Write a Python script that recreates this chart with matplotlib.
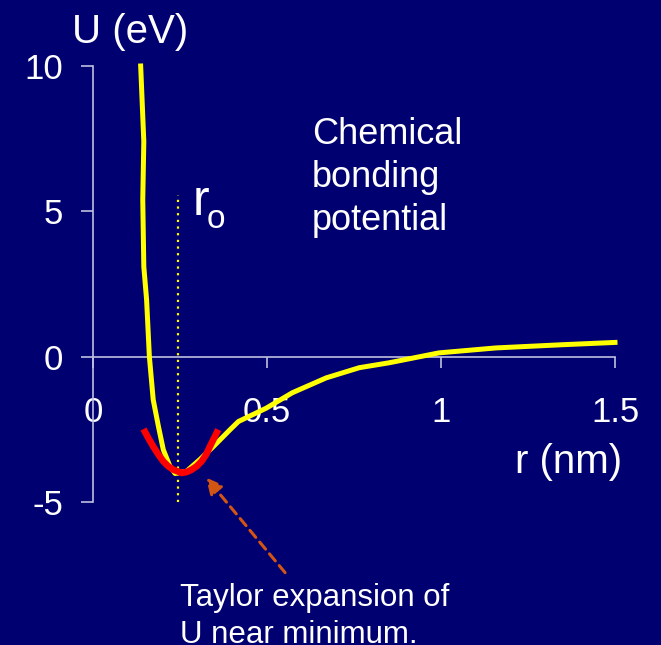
import matplotlib
matplotlib.use('Agg')
import matplotlib.pyplot as plt

plt.rcParams['font.family'] = ['Liberation Sans', 'DejaVu Sans']
plt.rcParams['axes.unicode_minus'] = False

# bonding potential (r in nm, U in eV)
r_curve = [0.137, 0.146, 0.143, 0.146, 0.154, 0.162, 0.173, 0.188, 0.202, 0.221,
           0.236, 0.269, 0.307, 0.346, 0.394, 0.418, 0.498, 0.573, 0.67, 0.765,
           0.851, 0.994, 1.157, 1.347, 1.5]
u_curve = [10.0, 7.4, 5.4, 3.1, 1.96, 0.0, -1.48, -2.4, -3.2, -3.77,
           -4.02, -3.94, -3.54, -3.09, -2.51, -2.23, -1.77, -1.24, -0.73, -0.38,
           -0.21, 0.13, 0.30, 0.41, 0.49]

# Taylor (parabola) approximation near the minimum
r_taylor = [0.145, 0.159, 0.173, 0.188, 0.202, 0.216, 0.231, 0.255, 0.269,
            0.283, 0.298, 0.312, 0.325, 0.336, 0.348, 0.36]
u_taylor = [-2.49, -2.8, -3.09, -3.37, -3.6, -3.77, -3.89, -4.0, -3.97,
            -3.89, -3.77, -3.6, -3.37, -3.09, -2.8, -2.51]

r0 = 0.245
r0_span = [-5, 5.55]

x_ticks = [0, 0.5, 1, 1.5]
x_labels = ['0', '0.5', '1', '1.5']
y_ticks = [-5, 0, 5, 10]
y_labels = ['-5', '0', '5', '10']

bg = '#000070'
axis_col = '#c0c0e0'
W, H = 661, 645

fig = plt.figure(figsize=(W / 100, H / 100), dpi=100, facecolor=bg)
ax = fig.add_axes([93 / W, 1 - 502 / H, (615 - 93) / W, (502 - 66) / H])
ax.set_facecolor(bg)
ax.set_xlim(0, 1.5)
ax.set_ylim(-5, 10)

for s in ['top', 'right']:
    ax.spines[s].set_visible(False)
ax.spines['bottom'].set_position(('data', 0))
for s in ['left', 'bottom']:
    ax.spines[s].set_color(axis_col)
    ax.spines[s].set_linewidth(1.2)

ax.set_xticks(x_ticks)
ax.set_xticklabels(x_labels)
ax.set_yticks(y_ticks)
ax.set_yticklabels(y_labels)
ax.tick_params(axis='x', direction='out', length=8, width=1.2, color=axis_col,
               labelcolor='white', labelsize=25, pad=20)
ax.tick_params(axis='y', direction='out', length=8.6, width=1.2, color=axis_col,
               labelcolor='white', labelsize=25, pad=13)

ax.plot([r0, r0], r0_span, color='#ffff00', lw=1.6, linestyle=(0, (1, 2)), zorder=3)
ax.plot(r_curve, u_curve, color='#ffff00', lw=3.6, clip_on=False, zorder=4,
        solid_joinstyle='round')
ax.plot(r_taylor, u_taylor, color='#ff0000', lw=4.8, clip_on=False, zorder=5,
        solid_capstyle='butt', solid_joinstyle='round')

ax.annotate('', xy=(0.325, -4.16), xytext=(0.552, -7.43),
            arrowprops=dict(arrowstyle='-|>', color='#d25514', lw=2.2,
                            linestyle=(0, (3, 2)), mutation_scale=24,
                            shrinkA=0, shrinkB=0),
            annotation_clip=False)

ax.text(0.287, 4.88, 'r', color='white', fontsize=36, va='baseline', ha='left')
ax.text(0.326, 4.44, 'o', color='white', fontsize=24, va='baseline', ha='left')

fig.text(72 / W, 1 - 43 / H, 'U (eV)', color='white', fontsize=29, va='baseline')
fig.text(515 / W, 1 - 473 / H, 'r (nm)', color='white', fontsize=29, va='baseline')
fig.text(312 / W, 1 - 117 / H, 'Chemical\nbonding\npotential', color='white',
         fontsize=26, va='top', linespacing=1.3)
fig.text(180 / W, 1 - 583 / H, 'Taylor expansion of\nU near minimum.',
         color='white', fontsize=22.5, va='top', linespacing=1.3)

fig.savefig('out.png', dpi=100, facecolor=bg)
